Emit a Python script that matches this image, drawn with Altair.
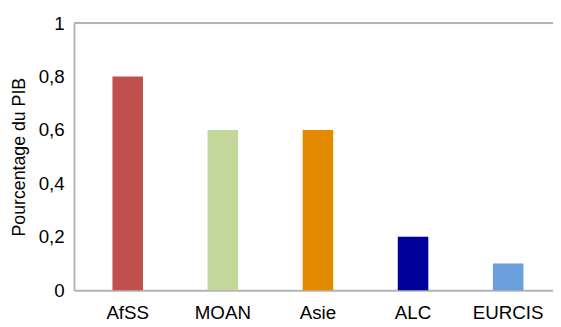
import altair as alt
import pandas as pd

regions = ["AfSS", "MOAN", "Asie", "ALC", "EURCIS"]
values = [0.8, 0.6, 0.6, 0.2, 0.1]
colors = ["#C0504D", "#C4D79B", "#E38A00", "#00009A", "#6A9EDC"]
y_ticks = [0, 0.2, 0.4, 0.6, 0.8, 1]

df = pd.DataFrame({"region": regions, "value": values})

W, H = 486, 271
FONT = "Liberation Sans"

bars = alt.Chart(df).mark_bar().encode(
    x=alt.X("region:N", sort=regions,
            scale=alt.Scale(paddingInner=0.679, paddingOuter=0.3575, align=0.565),
            axis=alt.Axis(title=None, labelAngle=0, labelFontSize=19, labelFont=FONT,
                          labelColor="#000000", labelPadding=14, ticks=False,
                          domainColor="#B4B4B4", domainWidth=2)),
    y=alt.Y("value:Q", scale=alt.Scale(domain=[0, 1]),
            axis=alt.Axis(title="Pourcentage du PIB", titleFontSize=18, titleFont=FONT,
                          titleFontWeight="normal", titleColor="#000000", titlePadding=10,
                          values=y_ticks, grid=False, ticks=False,
                          labelExpr="replace(format(datum.value, '~g'), '.', ',')",
                          labelFontSize=19, labelFont=FONT, labelColor="#000000",
                          labelPadding=10, domainColor="#B4B4B4", domainWidth=2)),
    color=alt.Color("region:N", sort=regions,
                    scale=alt.Scale(domain=regions, range=colors), legend=None),
)

top = alt.Chart(df).mark_rule(color="#B4B4B4", strokeWidth=2).encode(
    x=alt.value(0), x2=alt.value(W + 20), y=alt.value(0)
)

chart = alt.layer(bars, top).properties(
    width=W, height=H,
    autosize=alt.AutoSizeParams(type="none"),
    padding={"left": 67, "top": 13, "right": 0, "bottom": 35},
).configure_view(stroke=None).configure(background="white")

chart.save("out.html", embed_options={"renderer": "svg", "actions": False})
